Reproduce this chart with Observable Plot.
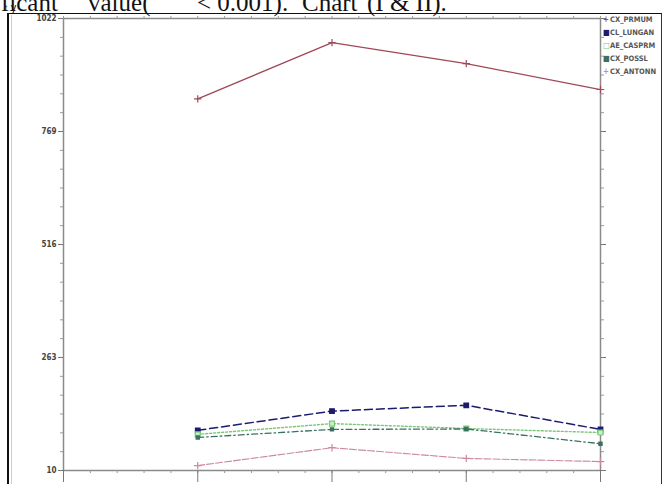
<!DOCTYPE html>
<html>
<head>
<meta charset="utf-8">
<script src="https://cdn.jsdelivr.net/npm/d3@7"></script>
<script src="https://cdn.jsdelivr.net/npm/@observablehq/plot@0.6"></script>
<style>
  html, body { margin: 0; padding: 0; background: #fff; }
  #wrap { position: relative; width: 669px; height: 484px; overflow: hidden; background: #fff; }
  #chart { position: absolute; left: 0; top: 0; }
  .cap { position: absolute; top: -6.5px; font: 25px "Liberation Serif", "Times New Roman", serif; line-height: 18px; color: #111; white-space: pre; }
  #frame { position: absolute; left: 7px; top: 13px; width: 652px; height: 480px; border-left: 2px solid #111; border-top: 1.5px solid #111; border-right: 1.5px solid #333; }
  #inner { position: absolute; left: 11px; top: 15px; width: 1px; height: 470px; background: #ccc; }
  #legend { position: absolute; left: 603px; top: 13px; font: bold 7.5px "DejaVu Sans Condensed", "DejaVu Sans", sans-serif; color: #555; line-height: 13px; }
  #legend div { white-space: nowrap; }
  #legend span.m { display: inline-block; width: 7px; font-size: 8px; }
</style>
</head>
<body>
<div id="wrap">
  <div id="frame"></div>
  <div id="inner"></div>
  <div id="chart"></div>
  <div class="cap" style="left:1px">ficant</div>
  <div class="cap" style="left:88px">value(</div>
  <div class="cap" style="left:197px">&lt; 0.001).</div>
  <div class="cap" style="left:302px">Chart</div>
  <div class="cap" style="left:367px">(I &amp; II).</div>
  <div id="legend"></div>
</div>
<script>
// ---- data ----
const xValues = [1, 2, 3, 4];
const seriesNames = ["CX_PRMUM", "CL_LUNGAN", "AE_CASPRM", "CX_POSSL", "CX_ANTONN"];
const cxPrmum  = [842, 968, 921, 863];
const clLungan = [100, 143, 156, 102];
const aeCasprm = [91, 115, 104, 95];
const cxPossl  = [84, 102, 103, 70];
const cxAntonn = [21, 61, 37, 30];
const yTickLabels = [10, 263, 516, 769, 1022];
const xMajorTicks = [0, 1, 2, 3, 4];

// ---- styles ----
const styles = [
  {color: "#a04858", dash: null, width: 1.3, symbol: "plus", fill: "none", r: 2.5},
  {color: "#1c1c6e", dash: "8,4", width: 1.5, symbol: "square", fill: "#1c1c6e", r: 2.6},
  {color: "#78c878", dash: "2,2", width: 1.4, symbol: "square", fill: "#c8f0c8", r: 2.8},
  {color: "#3c7060", dash: "6,3,1.5,3", width: 1.3, symbol: "square", fill: "#3c7060", r: 1.8},
  {color: "#cc88a0", dash: "7,2", width: 1.1, symbol: "plus", fill: "none", r: 2.5}
];
const allSeries = [cxPrmum, clLungan, aeCasprm, cxPossl, cxAntonn];
const rows = [];
allSeries.forEach((vals, i) => vals.forEach((v, j) => rows.push({series: seriesNames[i], idx: i, x: xValues[j], y: v})));

const yMinor = d3.range(0, 25).map(k => 10 + k * (1012 / 24));
const xMinor = d3.range(0, 21).map(k => k * 0.2);

const marks = [
  Plot.frame({stroke: "#8a8a8a", strokeWidth: 1.5}),
  Plot.axisY({ticks: yMinor, tickSize: 3, tickFormat: () => "", stroke: "#999"}),
  Plot.axisY({ticks: yTickLabels, tickSize: 5, tickPadding: 2, tickFormat: d => String(d),
    fontSize: 8, fontWeight: "bold", fontFamily: "DejaVu Sans Condensed, DejaVu Sans, sans-serif",
    fill: "#444", stroke: "#777", label: null}),
  Plot.axisY({anchor: "right", ticks: yMinor, tickSize: 3, tickFormat: () => "", stroke: "#999", label: null}),
  Plot.axisY({anchor: "right", ticks: yTickLabels, tickSize: 5, tickFormat: () => "", stroke: "#777", label: null}),
  Plot.axisX({ticks: xMinor, tickSize: 3, tickFormat: () => "", stroke: "#999", label: null}),
  Plot.axisX({ticks: xMajorTicks, tickSize: 12, tickFormat: () => "", stroke: "#777", label: null}),
  Plot.axisX({anchor: "top", ticks: xMinor, tickSize: 3, tickFormat: () => "", stroke: "#999", label: null})
];
styles.forEach((s, i) => {
  const data = rows.filter(r => r.idx === i);
  marks.push(Plot.line(data, {x: "x", y: "y", stroke: s.color, strokeWidth: s.width, strokeDasharray: s.dash}));
  marks.push(Plot.dot(data, {x: "x", y: "y", symbol: s.symbol, r: s.r, stroke: s.color, fill: s.fill, strokeWidth: 1.2}));
});

const chart = Plot.plot({
  width: 669,
  height: 484,
  marginLeft: 63,
  marginRight: 69,
  marginTop: 18,
  marginBottom: 14,
  x: {domain: [0, 4], axis: null},
  y: {domain: [10, 1022], axis: null},
  style: {background: "transparent", overflow: "visible"},
  marks
});
document.getElementById("chart").appendChild(chart);

// legend
const legend = document.getElementById("legend");
const glyph = {plus: "+", square: "\u25A0"};
seriesNames.forEach((name, i) => {
  const s = styles[i];
  const div = document.createElement("div");
  const m = document.createElement("span");
  m.className = "m";
  m.style.color = s.color;
  m.textContent = i === 2 ? "\u25A1" : glyph[s.symbol];
  div.appendChild(m);
  div.appendChild(document.createTextNode(name));
  legend.appendChild(div);
});
</script>
</body>
</html>
